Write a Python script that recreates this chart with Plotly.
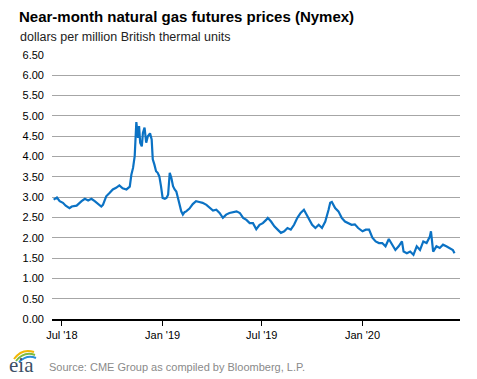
import plotly.graph_objects as go

# ---------------- data ----------------
dates = [
    "2018-06-16", "2018-06-22", "2018-06-27", "2018-07-03", "2018-07-08", "2018-07-15",
    "2018-07-19", "2018-07-28", "2018-08-06", "2018-08-12", "2018-08-18", "2018-08-24",
    "2018-08-30", "2018-09-05", "2018-09-11", "2018-09-14", "2018-09-20", "2018-09-26",
    "2018-10-02", "2018-10-08", "2018-10-14", "2018-10-20", "2018-10-27", "2018-11-02",
    "2018-11-05", "2018-11-08", "2018-11-11", "2018-11-14", "2018-11-17", "2018-11-19",
    "2018-11-21", "2018-11-24", "2018-11-26", "2018-11-29", "2018-12-02", "2018-12-05",
    "2018-12-09", "2018-12-12", "2018-12-14", "2018-12-17", "2018-12-20", "2018-12-23",
    "2018-12-26", "2018-12-29", "2019-01-01", "2019-01-05", "2019-01-08", "2019-01-11",
    "2019-01-14", "2019-01-17", "2019-01-20", "2019-01-23", "2019-01-26", "2019-01-29",
    "2019-02-01", "2019-02-04", "2019-02-07", "2019-02-10", "2019-02-13", "2019-02-19",
    "2019-02-25", "2019-03-03", "2019-03-09", "2019-03-15", "2019-03-22", "2019-03-28",
    "2019-04-03", "2019-04-09", "2019-04-15", "2019-04-21", "2019-04-27", "2019-05-03",
    "2019-05-09", "2019-05-16", "2019-05-22", "2019-05-28", "2019-06-03", "2019-06-09",
    "2019-06-15", "2019-06-21", "2019-06-27", "2019-07-03", "2019-07-09", "2019-07-12",
    "2019-07-18", "2019-07-24", "2019-07-30", "2019-08-05", "2019-08-11", "2019-08-17",
    "2019-08-23", "2019-08-29", "2019-09-04", "2019-09-10", "2019-09-16", "2019-09-19",
    "2019-09-25", "2019-10-01", "2019-10-07", "2019-10-13", "2019-10-19", "2019-10-25",
    "2019-10-31", "2019-11-03", "2019-11-06", "2019-11-12", "2019-11-18", "2019-11-24",
    "2019-11-30", "2019-12-06", "2019-12-12", "2019-12-18", "2019-12-24", "2020-01-01",
    "2020-01-07", "2020-01-13", "2020-01-19", "2020-01-25", "2020-01-31", "2020-02-06",
    "2020-02-12", "2020-02-18", "2020-02-24", "2020-03-01", "2020-03-07", "2020-03-13",
    "2020-03-16", "2020-03-22", "2020-03-28", "2020-04-03", "2020-04-09", "2020-04-15",
    "2020-04-21", "2020-04-27", "2020-05-03", "2020-05-05", "2020-05-09", "2020-05-15",
    "2020-05-21", "2020-05-27", "2020-06-02", "2020-06-08", "2020-06-14", "2020-06-17",
]
prices = [
    2.94, 2.99, 2.90, 2.86, 2.79, 2.73,
    2.77, 2.79, 2.90, 2.96, 2.92, 2.96,
    2.90, 2.84, 2.77, 2.81, 3.02, 3.10,
    3.19, 3.23, 3.29, 3.22, 3.19, 3.26,
    3.56, 3.72, 4.01, 4.85, 4.46, 4.75,
    4.34, 4.25, 4.58, 4.71, 4.34, 4.50,
    4.57, 4.42, 3.93, 3.80, 3.64, 3.60,
    3.51, 3.27, 2.98, 2.96, 2.98, 3.06,
    3.60, 3.47, 3.27, 3.19, 3.14, 2.98,
    2.77, 2.65, 2.57, 2.63, 2.65, 2.72,
    2.83, 2.90, 2.88, 2.86, 2.81, 2.73,
    2.67, 2.69, 2.61, 2.49, 2.57, 2.61,
    2.62, 2.65, 2.61, 2.49, 2.44, 2.36,
    2.36, 2.21, 2.32, 2.36, 2.44, 2.49,
    2.40, 2.28, 2.20, 2.12, 2.16, 2.24,
    2.20, 2.32, 2.49, 2.61, 2.69, 2.61,
    2.49, 2.32, 2.24, 2.32, 2.24, 2.40,
    2.69, 2.86, 2.88, 2.73, 2.65, 2.49,
    2.40, 2.36, 2.32, 2.33, 2.24, 2.16,
    2.20, 2.20, 2.00, 1.91, 1.87, 1.87,
    1.79, 1.97, 1.83, 1.70, 1.79, 1.91,
    1.66, 1.62, 1.66, 1.58, 1.79, 1.70,
    1.91, 1.87, 2.03, 2.16, 1.66, 1.79,
    1.75, 1.83, 1.79, 1.75, 1.70, 1.62,
]
x_tick_dates = ["2018-07-01", "2019-01-01", "2019-07-01", "2020-01-01"]
x_tick_labels = ["Jul '18", "Jan '19", "Jul '19", "Jan '20"]

title_text = "Near-month natural gas futures prices (Nymex)"
subtitle_text = "dollars per million British thermal units"
source_text = "Source: CME Group as compiled by Bloomberg, L.P."

# ---------------- layout helpers ----------------
W, H = 477, 379
ML, MR, MT, MB = 52, 17, 55, 60
PW, PH = W - ML - MR, H - MT - MB


def px(x):
    return (x - ML) / PW


def py(y):
    return (H - MB - y) / PH


FONT = "Arial, Liberation Sans, sans-serif"

fig = go.Figure()
fig.add_trace(go.Scatter(
    x=dates, y=prices, mode="lines",
    line=dict(color="#0b72c4", width=2.2),
    hoverinfo="x+y", showlegend=False,
))

annotations = [
    dict(text="<b>" + title_text + "</b>", x=px(17), y=py(17), xref="paper", yref="paper",
         xanchor="left", yanchor="middle", showarrow=False,
         font=dict(family=FONT, size=15, color="#000000")),
    dict(text=subtitle_text, x=px(18), y=py(37), xref="paper", yref="paper",
         xanchor="left", yanchor="middle", showarrow=False,
         font=dict(family=FONT, size=12.5, color="#222222")),
    dict(text=source_text, x=px(47), y=py(367), xref="paper", yref="paper",
         xanchor="left", yanchor="middle", showarrow=False,
         font=dict(family=FONT, size=11, color="#8a8a8a")),
    dict(text="eia", x=px(7), y=py(365), xref="paper", yref="paper",
         xanchor="left", yanchor="middle", showarrow=False,
         font=dict(family="Liberation Serif, Times New Roman, serif", size=21, color="#3b4f66")),
]

shapes = []
arcs = [
    ((14, 359), (22, 348), (34, 352), "#f2b705"),
    ((16, 361), (24, 351), (35, 355), "#7dbb42"),
    ((19, 362), (27, 354), (36, 358), "#2a8fd8"),
]
for (x0, y0), (cx, cy), (x1, y1), col in arcs:
    shapes.append(dict(
        type="path", xref="paper", yref="paper",
        path=f"M {px(x0)},{py(y0)} Q {px(cx)},{py(cy)} {px(x1)},{py(y1)}",
        line=dict(color=col, width=2),
    ))

fig.update_layout(
    width=W, height=H,
    margin=dict(l=ML, r=MR, t=MT, b=MB, pad=0),
    paper_bgcolor="white", plot_bgcolor="white",
    font=dict(family=FONT, size=11, color="#000000"),
    annotations=annotations, shapes=shapes,
    xaxis=dict(
        type="date", range=["2018-06-13", "2020-06-27"],
        tickvals=x_tick_dates, ticktext=x_tick_labels,
        ticks="outside", ticklen=5, tickwidth=1, tickcolor="#000000",
        showline=True, linecolor="#000000", linewidth=1.5,
        showgrid=False, zeroline=False,
        tickfont=dict(family=FONT, size=11, color="#000000"),
    ),
    yaxis=dict(
        range=[0, 6.5], dtick=0.5, tick0=0, tickformat=".2f",
        showgrid=True, gridcolor="#a6a6a6", gridwidth=1,
        zeroline=False, showline=False, ticks="",
        ticklabelstandoff=7,
        tickfont=dict(family=FONT, size=11, color="#000000"),
    ),
)

fig.write_html(
    "out.html",
    config={"displayModeBar": False},
    post_script="document.body.style.margin='0px';document.body.style.overflow='hidden';",
)
